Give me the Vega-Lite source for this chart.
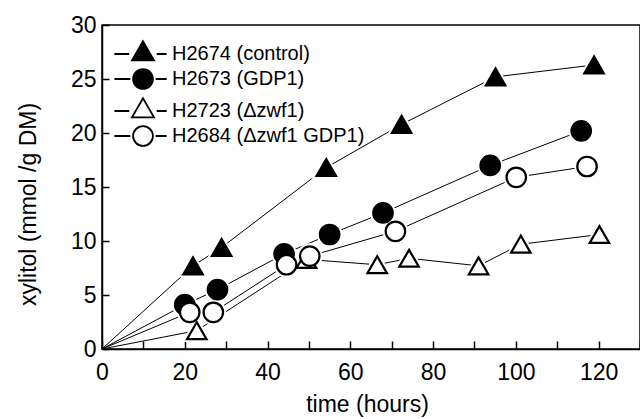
{
  "$schema": "https://vega.github.io/schema/vega-lite/v6.json",
  "width": 538,
  "height": 324,
  "autosize": {"type": "none"},
  "padding": {"left": 102, "top": 25, "right": 0, "bottom": 70},
  "background": "white",
  "config": {
    "font": "Liberation Sans",
    "view": {"stroke": "black", "strokeWidth": 1.5},
    "axis": {
      "grid": false,
      "domainColor": "black",
      "domainWidth": 1.5,
      "tickColor": "black",
      "tickWidth": 1.5,
      "labelColor": "black",
      "labelFont": "Liberation Sans",
      "labelFontSize": 23,
      "titleColor": "black",
      "titleFont": "Liberation Sans",
      "titleFontSize": 23,
      "titleFontWeight": "normal"
    }
  },
  "data": {
    "values": [
      {"series": "H2674 (control)", "t": 0, "xylitol": 0},
      {"series": "H2674 (control)", "t": 22, "xylitol": 7.7},
      {"series": "H2674 (control)", "t": 28.9, "xylitol": 9.4},
      {"series": "H2674 (control)", "t": 54.2, "xylitol": 16.8},
      {"series": "H2674 (control)", "t": 72.4, "xylitol": 20.8},
      {"series": "H2674 (control)", "t": 95.1, "xylitol": 25.2},
      {"series": "H2674 (control)", "t": 118.9, "xylitol": 26.3},
      {"series": "H2673 (GDP1)", "t": 0, "xylitol": 0},
      {"series": "H2673 (GDP1)", "t": 20, "xylitol": 4.1},
      {"series": "H2673 (GDP1)", "t": 27.9, "xylitol": 5.5},
      {"series": "H2673 (GDP1)", "t": 44, "xylitol": 8.8},
      {"series": "H2673 (GDP1)", "t": 55, "xylitol": 10.6},
      {"series": "H2673 (GDP1)", "t": 67.9, "xylitol": 12.6},
      {"series": "H2673 (GDP1)", "t": 93.8, "xylitol": 17.0},
      {"series": "H2673 (GDP1)", "t": 115.8, "xylitol": 20.2},
      {"series": "H2723 (Δzwf1)", "t": 0, "xylitol": 0},
      {"series": "H2723 (Δzwf1)", "t": 22.9, "xylitol": 1.7},
      {"series": "H2723 (Δzwf1)", "t": 49.4, "xylitol": 8.3},
      {"series": "H2723 (Δzwf1)", "t": 66.5, "xylitol": 7.8},
      {"series": "H2723 (Δzwf1)", "t": 74.2, "xylitol": 8.4},
      {"series": "H2723 (Δzwf1)", "t": 91, "xylitol": 7.7},
      {"series": "H2723 (Δzwf1)", "t": 101.2, "xylitol": 9.7},
      {"series": "H2723 (Δzwf1)", "t": 120.2, "xylitol": 10.6},
      {"series": "H2684 (Δzwf1 GDP1)", "t": 0, "xylitol": 0},
      {"series": "H2684 (Δzwf1 GDP1)", "t": 21.2, "xylitol": 3.4},
      {"series": "H2684 (Δzwf1 GDP1)", "t": 26.9, "xylitol": 3.4},
      {"series": "H2684 (Δzwf1 GDP1)", "t": 44.6, "xylitol": 7.8},
      {"series": "H2684 (Δzwf1 GDP1)", "t": 50.2, "xylitol": 8.6},
      {"series": "H2684 (Δzwf1 GDP1)", "t": 70.9, "xylitol": 10.9},
      {"series": "H2684 (Δzwf1 GDP1)", "t": 100.1, "xylitol": 15.9},
      {"series": "H2684 (Δzwf1 GDP1)", "t": 117.2, "xylitol": 16.9}
    ]
  },
  "layer": [
    {
      "mark": {"type": "line", "color": "black", "strokeWidth": 1},
      "encoding": {
        "x": {
          "field": "t", "type": "quantitative",
          "scale": {"domain": [0, 130], "nice": false},
          "axis": {
            "title": "time (hours)",
            "values": [0, 10, 20, 30, 40, 50, 60, 70, 80, 90, 100, 110, 120, 130],
            "labelExpr": "datum.value % 20 === 0 ? datum.label : ''",
            "tickSize": -8,
            "labelPadding": 20,
            "labelFlush": false,
            "labelOverlap": false,
            "titleX": 265,
            "titleY": 62,
            "titleBaseline": "alphabetic"
          }
        },
        "y": {
          "field": "xylitol", "type": "quantitative",
          "scale": {"domain": [0, 30], "nice": false},
          "axis": {
            "title": "xylitol (mmol /g DM)",
            "values": [0, 5, 10, 15, 20, 25, 30],
            "tickSize": -7,
            "labelPadding": 13,
            "labelFlush": false,
            "labelOverlap": false,
            "titleX": -67,
            "titleY": 179,
            "titleAngle": -90,
            "titleAlign": "center",
            "titleBaseline": "alphabetic"
          }
        },
        "detail": {"field": "series"}
      }
    },
    {
      "transform": [{"filter": "datum.t > 0"}],
      "mark": {"type": "point", "filled": true, "fill": "white", "stroke": "white", "strokeWidth": 6, "size": 380, "opacity": 1},
      "encoding": {
        "x": {"field": "t", "type": "quantitative"},
        "y": {"field": "xylitol", "type": "quantitative"},
        "shape": {
          "field": "series",
          "scale": {
            "domain": ["H2674 (control)", "H2673 (GDP1)", "H2723 (Δzwf1)", "H2684 (Δzwf1 GDP1)"],
            "range": ["triangle-up", "circle", "triangle-up", "circle"]
          },
          "legend": null
        }
      }
    },
    {
      "transform": [{"filter": "datum.t > 0"}],
      "mark": {"type": "point", "filled": true, "stroke": "black", "strokeWidth": 2.2, "size": 380, "opacity": 1},
      "encoding": {
        "x": {"field": "t", "type": "quantitative"},
        "y": {"field": "xylitol", "type": "quantitative"},
        "shape": {
          "field": "series",
          "scale": {
            "domain": ["H2674 (control)", "H2673 (GDP1)", "H2723 (Δzwf1)", "H2684 (Δzwf1 GDP1)"],
            "range": ["triangle-up", "circle", "triangle-up", "circle"]
          },
          "legend": null
        },
        "fill": {
          "field": "series",
          "scale": {
            "domain": ["H2674 (control)", "H2673 (GDP1)", "H2723 (Δzwf1)", "H2684 (Δzwf1 GDP1)"],
            "range": ["black", "black", "white", "white"]
          },
          "legend": null
        }
      }
    },
    {
      "transform": [{"filter": "datum.t < 0"}],
      "mark": {"type": "point", "filled": true, "stroke": "black", "strokeWidth": 1.8, "size": 484, "opacity": 1},
      "encoding": {
        "x": {"field": "t", "type": "quantitative"},
        "y": {"field": "xylitol", "type": "quantitative"},
        "shape": {
          "field": "series",
          "scale": {
            "domain": ["H2674 (control)", "H2673 (GDP1)", "H2723 (Δzwf1)", "H2684 (Δzwf1 GDP1)"],
            "range": [
              "M-2.6,0H-1.25M1.25,0H2.15M0,-1.155L-1,0.577L1,0.577Z",
              "M-2.6,0H-1.15M1.15,0H2.15M-0.9,0C-0.9,-0.497,-0.497,-0.9,0,-0.9C0.497,-0.9,0.9,-0.497,0.9,0C0.9,0.497,0.497,0.9,0,0.9C-0.497,0.9,-0.9,0.497,-0.9,0Z",
              "M-2.6,0H-1.25M1.25,0H2.15M0,-1.155L-1,0.577L1,0.577Z",
              "M-2.6,0H-1.15M1.15,0H2.15M-0.9,0C-0.9,-0.497,-0.497,-0.9,0,-0.9C0.497,-0.9,0.9,-0.497,0.9,0C0.9,0.497,0.497,0.9,0,0.9C-0.497,0.9,-0.9,0.497,-0.9,0Z"
            ]
          },
          "legend": {
            "title": null, "orient": "none", "legendX": 29, "legendY": 17, "padding": 0,
            "labelFontSize": 20, "labelFont": "Liberation Sans", "labelColor": "black",
            "labelOffset": 17, "labelLimit": 400, "rowPadding": 1, "symbolSize": 484,
            "symbolStrokeWidth": 1.8, "symbolStrokeColor": "black", "symbolOpacity": 1,
            "encode": {"symbols": {"update": {"stroke": {"value": "black"}, "strokeWidth": {"value": 1.8}}}}
          }
        },
        "fill": {
          "field": "series",
          "scale": {
            "domain": ["H2674 (control)", "H2673 (GDP1)", "H2723 (Δzwf1)", "H2684 (Δzwf1 GDP1)"],
            "range": ["black", "black", "white", "white"]
          },
          "legend": {
            "title": null, "orient": "none", "legendX": 29, "legendY": 17, "padding": 0,
            "labelFontSize": 20, "labelFont": "Liberation Sans", "labelColor": "black",
            "labelOffset": 17, "labelLimit": 400, "rowPadding": 1, "symbolSize": 484,
            "symbolStrokeWidth": 1.8, "symbolStrokeColor": "black", "symbolOpacity": 1,
            "encode": {"symbols": {"update": {"stroke": {"value": "black"}, "strokeWidth": {"value": 1.8}}}}
          }
        }
      }
    }
  ],
  "resolve": {"scale": {"shape": "independent", "fill": "independent"}}
}
